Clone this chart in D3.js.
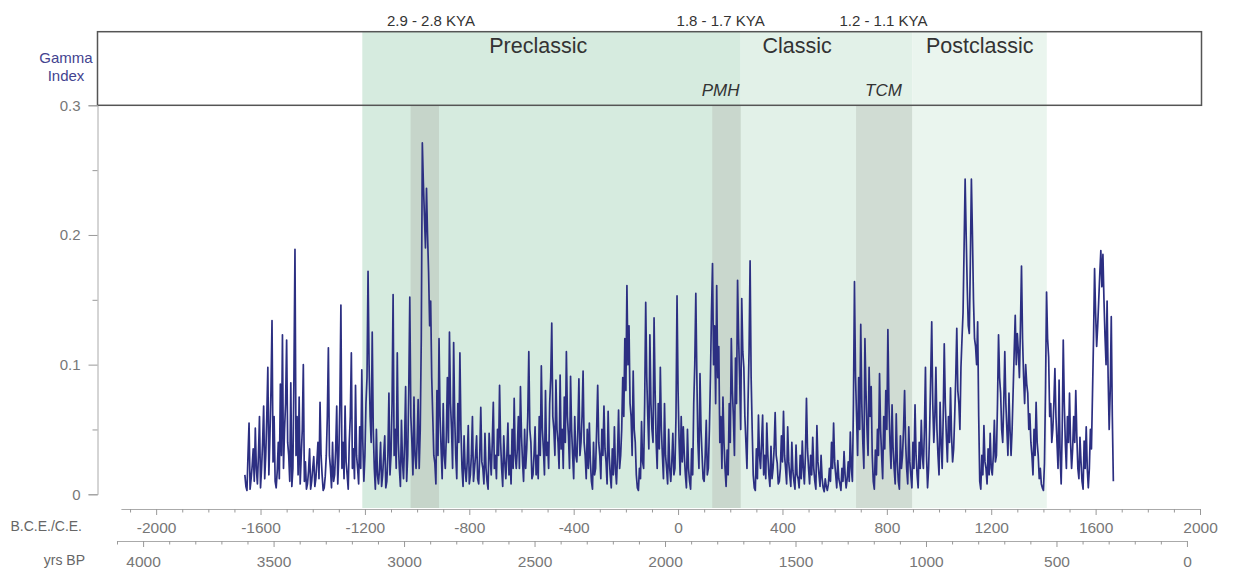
<!DOCTYPE html>
<html>
<head>
<meta charset="utf-8">
<script src="https://cdn.jsdelivr.net/npm/d3@7"></script>
<style>
  html, body { margin: 0; padding: 0; background: #fff; }
  svg { display: block; font-family: "Liberation Sans", Arial, sans-serif; }
</style>
</head>
<body>
<svg id="chart" width="1237" height="569"></svg>
<script>
// Gamma index record, one value every 4 years starting 1660 B.C.E.
const startYear = -1660;
const stepYears = 4;
const gammaIndex = [
  0.015,0.006,0.003,0.03,0.055,0.004,0.012,0.022,0.035,0.01,0.051,0.02,0.008,0.03,0.06,0.005,0.02,0.04,0.068,0.012,
  0.03,0.06,0.098,0.015,0.045,0.08,0.134,0.025,0.06,0.01,0.005,0.018,0.04,0.012,0.085,0.03,0.123,0.02,0.05,0.07,
  0.119,0.04,0.03,0.01,0.086,0.006,0.02,0.09,0.189,0.03,0.06,0.015,0.075,0.008,0.03,0.05,0.1,0.01,0.025,0.004,
  0.008,0.018,0.035,0.004,0.01,0.02,0.029,0.006,0.012,0.025,0.04,0.012,0.071,0.03,0.015,0.003,0.005,0.014,0.03,0.06,
  0.113,0.03,0.02,0.005,0.04,0.01,0.015,0.035,0.068,0.008,0.03,0.07,0.146,0.02,0.04,0.012,0.068,0.025,0.015,0.004,
  0.04,0.06,0.109,0.02,0.035,0.012,0.084,0.03,0.02,0.008,0.052,0.02,0.096,0.04,0.01,0.03,0.07,0.09,0.172,0.1,
  0.06,0.04,0.125,0.05,0.02,0.004,0.05,0.015,0.008,0.02,0.04,0.006,0.015,0.03,0.045,0.005,0.01,0.03,0.078,0.015,
  0.03,0.07,0.154,0.03,0.05,0.02,0.109,0.04,0.02,0.006,0.057,0.025,0.012,0.04,0.083,0.01,0.03,0.08,0.152,0.06,
  0.04,0.015,0.075,0.03,0.02,0.04,0.073,0.02,0.05,0.12,0.271,0.24,0.215,0.19,0.236,0.2,0.171,0.13,0.149,0.09,
  0.06,0.03,0.024,0.008,0.08,0.03,0.12,0.06,0.035,0.012,0.07,0.03,0.02,0.045,0.09,0.04,0.125,0.07,0.05,0.02,
  0.117,0.06,0.03,0.012,0.07,0.04,0.109,0.05,0.02,0.006,0.045,0.02,0.01,0.025,0.053,0.008,0.015,0.03,0.06,0.01,
  0.02,0.03,0.045,0.012,0.008,0.03,0.067,0.025,0.02,0.008,0.047,0.02,0.01,0.004,0.047,0.03,0.015,0.04,0.071,0.02,
  0.03,0.012,0.05,0.03,0.084,0.04,0.02,0.006,0.045,0.025,0.012,0.03,0.055,0.015,0.03,0.008,0.05,0.02,0.074,0.03,
  0.02,0.035,0.06,0.02,0.083,0.045,0.025,0.01,0.05,0.02,0.035,0.06,0.11,0.05,0.04,0.012,0.015,0.03,0.052,0.015,
  0.03,0.012,0.06,0.03,0.099,0.05,0.035,0.015,0.08,0.03,0.04,0.02,0.07,0.09,0.132,0.06,0.05,0.03,0.088,0.05,
  0.04,0.02,0.092,0.035,0.05,0.02,0.075,0.04,0.11,0.06,0.045,0.02,0.091,0.05,0.03,0.012,0.06,0.03,0.025,0.05,
  0.089,0.03,0.04,0.06,0.095,0.04,0.03,0.012,0.05,0.02,0.055,0.025,0.01,0.004,0.04,0.015,0.02,0.05,0.084,0.04,
  0.03,0.012,0.05,0.03,0.068,0.035,0.025,0.008,0.064,0.03,0.015,0.005,0.035,0.015,0.052,0.02,0.008,0.03,0.065,0.02,
  0.03,0.05,0.09,0.06,0.12,0.08,0.161,0.1,0.13,0.07,0.06,0.03,0.095,0.05,0.04,0.015,0.005,0.003,0.02,0.012,
  0.056,0.025,0.02,0.07,0.148,0.09,0.06,0.035,0.123,0.07,0.05,0.04,0.136,0.08,0.04,0.02,0.07,0.035,0.098,0.05,
  0.03,0.012,0.07,0.03,0.02,0.008,0.05,0.02,0.01,0.025,0.047,0.015,0.02,0.06,0.153,0.08,0.04,0.015,0.06,0.025,
  0.052,0.03,0.015,0.005,0.05,0.02,0.01,0.004,0.035,0.015,0.07,0.1,0.155,0.09,0.04,0.02,0.093,0.05,0.03,0.012,
  0.01,0.03,0.057,0.015,0.02,0.05,0.09,0.14,0.178,0.1,0.13,0.07,0.161,0.09,0.114,0.04,0.06,0.02,0.075,0.04,
  0.02,0.006,0.034,0.015,0.07,0.04,0.12,0.08,0.06,0.03,0.105,0.07,0.165,0.12,0.09,0.05,0.151,0.11,0.098,0.06,
  0.04,0.02,0.07,0.11,0.18,0.09,0.05,0.015,0.005,0.003,0.035,0.012,0.061,0.03,0.02,0.04,0.061,0.015,0.03,0.012,
  0.055,0.03,0.015,0.006,0.037,0.012,0.02,0.035,0.063,0.03,0.024,0.008,0.01,0.02,0.045,0.025,0.064,0.03,0.02,0.008,
  0.052,0.025,0.015,0.006,0.04,0.018,0.01,0.004,0.038,0.015,0.012,0.005,0.03,0.012,0.041,0.02,0.008,0.03,0.074,0.035,
  0.02,0.008,0.03,0.015,0.044,0.02,0.01,0.004,0.053,0.025,0.015,0.006,0.03,0.012,0.005,0.002,0.012,0.006,0.003,0.008,
  0.02,0.01,0.04,0.02,0.055,0.025,0.015,0.005,0.026,0.012,0.008,0.003,0.02,0.01,0.033,0.015,0.005,0.012,0.025,0.01,
  0.048,0.02,0.01,0.07,0.164,0.09,0.06,0.03,0.09,0.05,0.131,0.07,0.04,0.02,0.12,0.08,0.05,0.03,0.098,0.06,
  0.083,0.03,0.01,0.004,0.034,0.015,0.05,0.03,0.093,0.05,0.03,0.012,0.06,0.035,0.08,0.05,0.127,0.07,0.04,0.02,
  0.069,0.035,0.02,0.008,0.062,0.025,0.01,0.004,0.045,0.02,0.03,0.05,0.08,0.04,0.02,0.008,0.052,0.025,0.015,0.005,
  0.04,0.02,0.069,0.03,0.015,0.005,0.04,0.02,0.057,0.03,0.02,0.05,0.098,0.03,0.005,0.02,0.05,0.09,0.133,0.07,
  0.04,0.06,0.098,0.05,0.03,0.015,0.071,0.04,0.02,0.06,0.116,0.07,0.045,0.025,0.06,0.04,0.082,0.045,0.025,0.035,
  0.06,0.09,0.128,0.08,0.07,0.05,0.098,0.12,0.14,0.19,0.243,0.2,0.16,0.13,0.124,0.18,0.243,0.2,0.15,0.12,
  0.114,0.1,0.133,0.06,0.01,0.004,0.03,0.015,0.053,0.025,0.02,0.008,0.035,0.015,0.047,0.02,0.015,0.03,0.057,0.025,
  0.03,0.07,0.123,0.09,0.078,0.05,0.04,0.07,0.11,0.07,0.05,0.03,0.078,0.05,0.03,0.05,0.08,0.11,0.138,0.1,
  0.124,0.11,0.09,0.13,0.176,0.12,0.091,0.07,0.1,0.085,0.078,0.05,0.062,0.04,0.03,0.015,0.05,0.03,0.071,0.04,
  0.03,0.012,0.02,0.008,0.005,0.003,0.024,0.08,0.156,0.12,0.106,0.06,0.07,0.04,0.05,0.07,0.097,0.06,0.04,0.02,
  0.088,0.03,0.008,0.05,0.119,0.07,0.039,0.02,0.06,0.04,0.078,0.04,0.02,0.035,0.06,0.04,0.08,0.045,0.02,0.012,
  0.044,0.025,0.01,0.004,0.041,0.02,0.052,0.02,0.005,0.02,0.05,0.035,0.077,0.12,0.174,0.14,0.114,0.13,0.15,0.17,
  0.188,0.16,0.185,0.15,0.122,0.1,0.149,0.09,0.05,0.08,0.137,0.06,0.01
];

// Cultural periods, in C.E. years (negative = B.C.E.)
const periodNames = ["Preclassic", "Classic", "Postclassic"];
const periodStart = [-1210, 240, 897];
const periodEnd = [240, 897, 1413];
const periodLabelYear = [-536, 456, 1156];
const periodColors = ["#d6ebdf", "#e2f1e8", "#eaf5ee"];

// Drought intervals
const eventKya = ["2.9 - 2.8 KYA", "1.8 - 1.7 KYA", "1.2 - 1.1 KYA"];
const eventNames = ["", "PMH", "TCM"];
const eventStart = [-1025, 131, 682];
const eventEnd = [-916, 240, 897];
const eventLabelYear = [-947, 163, 787];
const eventColors = ["#c6d5ca", "#c9d7cd", "#d0dcd3"];

// Axis ticks
const yTicks = [0, 0.05, 0.1, 0.15, 0.2, 0.25, 0.3];
const ceTicks = d3.range(-2100, 2001, 100);
const ceLabelStep = 400;
const bpTicks = d3.range(4100, -1, -100);
const bpLabelStep = 500;
const bpOffset = 1950;

const svg = d3.select("#chart");

const x = d3.scaleLinear().domain([-2150, 2000]).range([117, 1200]);
const y = d3.scaleLinear().domain([0, 0.3]).range([494.3, 105.3]);

const axisX = 97.5;
const boxTop = 31.7;
const bandBottom = 508;
const boxRight = x(2000) + 1.5;

// Period shading
svg.append("g").selectAll("rect")
  .data(periodNames)
  .join("rect")
  .attr("x", (d, i) => x(periodStart[i]))
  .attr("width", (d, i) => x(periodEnd[i]) - x(periodStart[i]))
  .attr("y", boxTop)
  .attr("height", bandBottom - boxTop)
  .attr("fill", (d, i) => periodColors[i]);

// Drought interval shading
svg.append("g").selectAll("rect")
  .data(eventKya)
  .join("rect")
  .attr("x", (d, i) => x(eventStart[i]))
  .attr("width", (d, i) => x(eventEnd[i]) - x(eventStart[i]))
  .attr("y", y(0.3))
  .attr("height", bandBottom - y(0.3))
  .attr("fill", (d, i) => eventColors[i]);

// Gamma index line
const line = d3.line()
  .x((d, i) => x(startYear + i * stepYears))
  .y(d => y(d));

svg.append("path")
  .datum(gammaIndex)
  .attr("d", line)
  .attr("fill", "none")
  .attr("stroke", "#2c2f82")
  .attr("stroke-width", 1.7)
  .attr("stroke-linejoin", "round");

// Header box
svg.append("rect")
  .attr("x", axisX)
  .attr("y", boxTop)
  .attr("width", boxRight - axisX)
  .attr("height", y(0.3) - boxTop)
  .attr("fill", "none")
  .attr("stroke", "#555")
  .attr("stroke-width", 1.5);

// Period names
svg.append("g").selectAll("text")
  .data(periodNames)
  .join("text")
  .attr("x", (d, i) => x(periodLabelYear[i]))
  .attr("y", 53)
  .attr("text-anchor", "middle")
  .attr("font-size", 21.5)
  .attr("fill", "#333")
  .text(d => d);

// Interval ages above the box
svg.append("g").selectAll("text")
  .data(eventKya)
  .join("text")
  .attr("x", (d, i) => x(eventLabelYear[i]))
  .attr("y", 25.5)
  .attr("text-anchor", "middle")
  .attr("font-size", 15)
  .attr("fill", "#333")
  .text(d => d);

// Interval names inside the box
svg.append("g").selectAll("text")
  .data(eventNames)
  .join("text")
  .attr("x", (d, i) => x(eventLabelYear[i]))
  .attr("y", 95.5)
  .attr("text-anchor", "middle")
  .attr("font-size", 17)
  .attr("font-style", "italic")
  .attr("fill", "#333")
  .text(d => d);

// Y axis
const yAxis = d3.axisLeft(y)
  .tickValues(yTicks)
  .tickSize(9)
  .tickPadding(8)
  .tickFormat(d => (Math.round(d * 100) % 10 === 0 ? (d === 0 ? "0" : d.toFixed(1)) : ""));

const gy = svg.append("g")
  .attr("transform", `translate(${axisX},0)`)
  .call(yAxis);
gy.select(".domain").attr("stroke", "#aaa");
gy.selectAll(".tick line")
  .attr("stroke", "#999")
  .attr("x2", d => (Math.round(d * 100) % 10 === 0 ? -9 : -5));
gy.selectAll(".tick text")
  .attr("fill", "#777")
  .attr("font-size", 15)
  .attr("font-family", "Liberation Sans, Arial, sans-serif");

// Y axis title
svg.append("text")
  .attr("x", 66)
  .attr("text-anchor", "middle")
  .attr("font-size", 15)
  .attr("fill", "#43438f")
  .selectAll("tspan")
  .data(["Gamma", "Index"])
  .join("tspan")
  .attr("x", 66)
  .attr("y", (d, i) => 63 + i * 18)
  .text(d => d);

// B.C.E./C.E. axis
const xCE = d3.scaleLinear().domain([-2135, 2000]).range([x(-2135), x(2000)]);
const ceAxis = d3.axisBottom(xCE)
  .tickValues(ceTicks)
  .tickSize(6)
  .tickSizeOuter(0)
  .tickPadding(6)
  .tickFormat(d => (d % ceLabelStep === 0 ? d : ""));

const gce = svg.append("g")
  .attr("transform", "translate(0,509)")
  .call(ceAxis);
gce.select(".domain").attr("stroke", "#aaa");
gce.selectAll(".tick line")
  .attr("stroke", "#999")
  .attr("y2", d => (d % ceLabelStep === 0 ? 6 : 3.5));
gce.selectAll(".tick text")
  .attr("fill", "#777")
  .attr("font-size", 15.5)
  .attr("font-family", "Liberation Sans, Arial, sans-serif")
  .attr("dy", null)
  .attr("y", 23.5);

svg.append("text")
  .attr("x", 82)
  .attr("y", 531)
  .attr("text-anchor", "end")
  .attr("font-size", 14)
  .attr("fill", "#666")
  .text("B.C.E./C.E.");

// Years BP axis
const xBP = d3.scaleLinear().domain([4100, 0]).range([x(bpOffset - 4100), x(bpOffset)]);
const bpAxis = d3.axisBottom(xBP)
  .tickValues(bpTicks)
  .tickSize(6)
  .tickSizeOuter(0)
  .tickPadding(6)
  .tickFormat(d => (d % bpLabelStep === 0 ? d : ""));

const gbp = svg.append("g")
  .attr("transform", "translate(0,541)")
  .call(bpAxis);
gbp.select(".domain").attr("stroke", "#aaa");
gbp.selectAll(".tick line")
  .attr("stroke", "#999")
  .attr("y2", d => (d % bpLabelStep === 0 ? 6 : 3.5));
gbp.selectAll(".tick text")
  .attr("fill", "#777")
  .attr("font-size", 15.5)
  .attr("font-family", "Liberation Sans, Arial, sans-serif")
  .attr("dy", null)
  .attr("y", 25.5);

svg.append("text")
  .attr("x", 85)
  .attr("y", 565)
  .attr("text-anchor", "end")
  .attr("font-size", 14)
  .attr("fill", "#666")
  .text("yrs BP");
</script>
</body>
</html>
